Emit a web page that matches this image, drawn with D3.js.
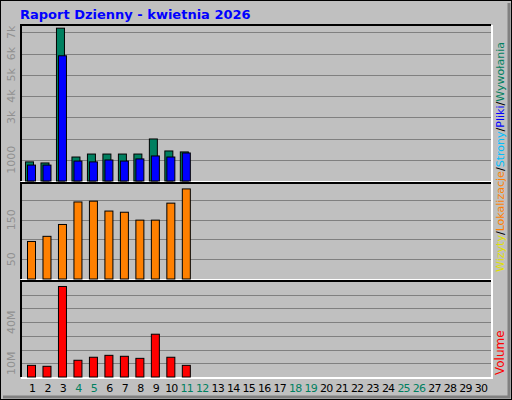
<!DOCTYPE html>
<html><head><meta charset="utf-8">
<script src="https://cdn.jsdelivr.net/npm/d3@7"></script>
<style>body{margin:0;background:#fff}svg{display:block}text{font-family:"DejaVu Sans",sans-serif}</style>
</head><body><svg id="c" width="512" height="400"></svg>
<script>
var days = d3.range(1, 31);
var weekend = [4, 5, 11, 12, 18, 19, 25, 26];
var hits = [900, 850, 7200, 1130, 1270, 1270, 1270, 1270, 1980, 1415, 1370];
var files = [750, 750, 5900, 940, 900, 990, 940, 1040, 1180, 1130, 1320];
var visits = [95, 108, 138, 195, 197, 172, 169, 149, 149, 192, 228];
var volume = [8.5, 7.8, 66, 12.2, 14.4, 15.8, 15.1, 13.6, 31.2, 14.4, 8.5];
var ticks1 = [[1000, "1000"], [3000, "3k"], [4000, "4k"], [5000, "5k"], [6000, "6k"], [7000, "7k"]];
var ticks2 = [[50, "50"], [150, "150"]];
var ticks3 = [[10, "10M"], [40, "40M"]];

var svg = d3.select("#c");
svg.append("rect").attr("x", 0.5).attr("y", 0.5).attr("width", 511).attr("height", 399).attr("fill", "#c0c0c0").attr("stroke", "#000");
svg.append("path").attr("d", "M3,397H509V3").attr("fill", "none").attr("stroke", "#808080").attr("stroke-width", 3);
svg.append("text").attr("x", 20).attr("y", 19).attr("fill", "#0000ff").attr("font-weight", "bold").attr("font-size", 13).text("Raport Dzienny - kwietnia 2026");

var x = d3.scaleLinear().domain([1, 30]).range([32, 481]);
var L = 21, R = 491;

function panel(top, bot, max, gridStep, ticks) {
  var y = d3.scaleLinear().domain([0, max]).range([bot, top]);
  var g = svg.append("g");
  g.append("rect").attr("x", L).attr("y", top).attr("width", R - L).attr("height", bot - top).attr("fill", "#c0c0c0");
  d3.range(gridStep, max, gridStep).forEach(function (v) {
    g.append("line").attr("x1", L).attr("x2", R).attr("y1", Math.round(y(v)) + 0.5).attr("y2", Math.round(y(v)) + 0.5).attr("stroke", "#808080");
  });
  g.append("path").attr("d", "M" + L + "," + bot + "V" + top + "H" + R).attr("fill", "none").attr("stroke", "#000").attr("stroke-width", 2);
  g.append("path").attr("d", "M" + L + "," + (bot + 1) + "H" + (R + 1) + "V" + top).attr("fill", "none").attr("stroke", "#fff").attr("stroke-width", 2);
  ticks.forEach(function (t) {
    g.append("text").attr("transform", "translate(15," + y(t[0]) + ") rotate(-90)").attr("text-anchor", "middle")
      .attr("fill", "#909090").attr("font-size", 11).text(t[1]);
  });
  return y;
}
function bars(y, data, dx, color) {
  svg.append("g").selectAll("rect").data(data).join("rect")
    .attr("x", function (d, i) { return x(i + 1) + dx; }).attr("width", 8)
    .attr("y", function (d) { return y(d); }).attr("height", function (d) { return y(0) - y(d); })
    .attr("fill", color).attr("stroke", "#000").attr("stroke-width", 1);
}
var y1 = panel(25, 181, 7350, 1000, ticks1);
bars(y1, hits, -6.5, "#008060");
bars(y1, files, -4.5, "#0000ff");
var y2 = panel(183, 279, 243, 50, ticks2);
bars(y2, visits, -4.5, "#ff8000");
var y3 = panel(281, 377, 70, 10, ticks3);
bars(y3, volume, -4.5, "#ff0000");

svg.append("g").selectAll("text").data(days).join("text")
  .attr("x", function (d) { return x(d); }).attr("y", 392).attr("text-anchor", "middle").attr("font-size", 11)
  .attr("letter-spacing", -0.8)
  .attr("fill", function (d) { return weekend.indexOf(d) >= 0 ? "#008060" : "#000"; }).text(function (d) { return d; });

var leg = svg.append("text").attr("transform", "translate(504,272) rotate(-90)").attr("font-size", 11)
  .attr("textLength", 230).attr("lengthAdjust", "spacingAndGlyphs");
[["Wizyty", "#e0e000"], ["/", "#000"], ["Lokalizacje", "#ff8000"], ["/", "#000"], ["Strony", "#00c0ff"], ["/", "#000"], ["Pliki", "#0000ff"], ["/", "#000"], ["Wywołania", "#008060"]]
  .forEach(function (p) { leg.append("tspan").attr("fill", p[1]).text(p[0]); });
svg.append("text").attr("transform", "translate(504,375) rotate(-90)").attr("font-size", 12).attr("fill", "#ff0000").text("Volume");
</script></body></html>
